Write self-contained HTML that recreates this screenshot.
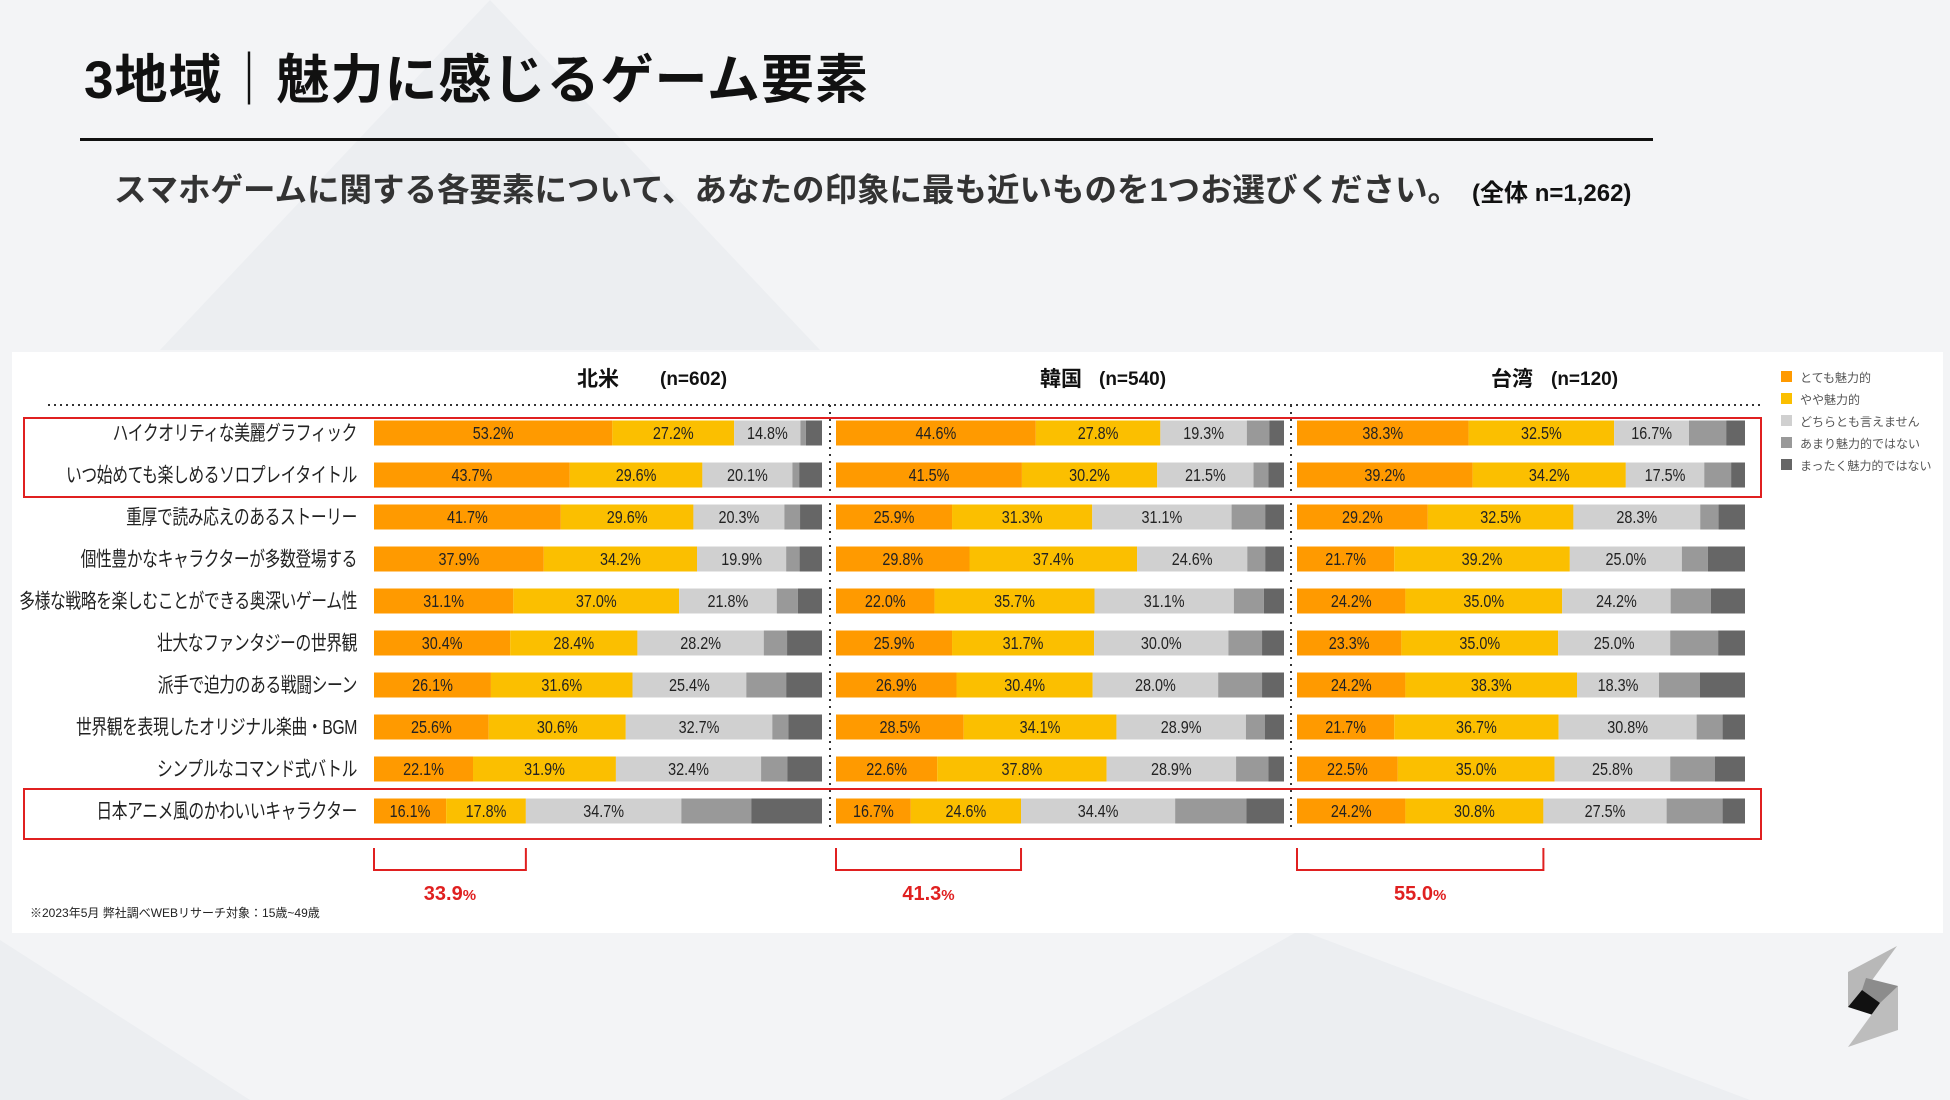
<!DOCTYPE html>
<html><head><meta charset="utf-8">
<style>
body{margin:0;width:1950px;height:1100px;overflow:hidden;background:#f3f4f6;font-family:"Liberation Sans","Noto Sans CJK JP",sans-serif;}
#root{position:relative;width:1950px;height:1100px;}
.title{position:absolute;left:84px;top:38px;font-size:53px;font-weight:bold;color:#111;letter-spacing:1px;}
.rule{position:absolute;left:80px;top:138px;width:1573px;height:3px;background:#111;}
.sub{position:absolute;left:114px;top:164px;font-size:32.5px;font-weight:bold;color:#333;white-space:nowrap;}
.sub small{font-size:24px;color:#111;margin-left:12px;}
</style></head>
<body><div id="root">
<svg width="1950" height="1100" style="position:absolute;left:0;top:0">
<polygon points="490,0 820,350 160,350" fill="#eceef1"/>
<polygon points="1300,930 1750,1100 1000,1100" fill="#eceef1"/>
<polygon points="0,940 250,1100 0,1100" fill="#eceef1"/>
</svg>
<div class="title">3地域｜魅力に感じるゲーム要素</div>
<div class="rule"></div>
<div class="sub">スマホゲームに関する各要素について、あなたの印象に最も近いものを1つお選びください。<small>(全体 n=1,262)</small></div>
<svg id="chart" width="1950" height="1100" style="position:absolute;left:0;top:0"></svg>
</div>
<script>
const categories=["ハイクオリティな美麗グラフィック","いつ始めても楽しめるソロプレイタイトル","重厚で読み応えのあるストーリー","個性豊かなキャラクターが多数登場する","多様な戦略を楽しむことができる奥深いゲーム性","壮大なファンタジーの世界観","派手で迫力のある戦闘シーン","世界観を表現したオリジナル楽曲・BGM","シンプルなコマンド式バトル","日本アニメ風のかわいいキャラクター"];
const regions=["北米","韓国","台湾"];
const regionN=["(n=602)","(n=540)","(n=120)"];
const seriesNames=["とても魅力的","やや魅力的","どちらとも言えません","あまり魅力的ではない","まったく魅力的ではない"];
const naVery=[53.2,43.7,41.7,37.9,31.1,30.4,26.1,25.6,22.1,16.1];
const naSome=[27.2,29.6,29.6,34.2,37.0,28.4,31.6,30.6,31.9,17.8];
const naNeutral=[14.8,20.1,20.3,19.9,21.8,28.2,25.4,32.7,32.4,34.7];
const naNot=[1.2,1.5,3.5,3.0,4.7,5.2,8.9,3.6,5.9,15.6];
const naNone=[3.6,5.1,4.9,5.0,5.4,7.8,8.0,7.5,7.7,15.8];
const krVery=[44.6,41.5,25.9,29.8,22.0,25.9,26.9,28.5,22.6,16.7];
const krSome=[27.8,30.2,31.3,37.4,35.7,31.7,30.4,34.1,37.8,24.6];
const krNeutral=[19.3,21.5,31.1,24.6,31.1,30.0,28.0,28.9,28.9,34.4];
const krNot=[5.0,3.3,7.5,4.0,6.7,7.5,9.8,4.2,7.2,15.9];
const krNone=[3.3,3.5,4.2,4.2,4.5,4.9,4.9,4.3,3.5,8.4];
const twVery=[38.3,39.2,29.2,21.7,24.2,23.3,24.2,21.7,22.5,24.2];
const twSome=[32.5,34.2,32.5,39.2,35.0,35.0,38.3,36.7,35.0,30.8];
const twNeutral=[16.7,17.5,28.3,25.0,24.2,25.0,18.3,30.8,25.8,27.5];
const twNot=[8.3,6.0,4.1,5.8,9.0,10.7,9.1,5.8,10.0,12.5];
const twNone=[4.2,3.1,5.9,8.3,7.6,6.0,10.1,5.0,6.7,5.0];
const topTwo=["33.9","41.3","55.0"];

const svg=document.getElementById('chart');
const NS='http://www.w3.org/2000/svg';
const colors=["#ff9a00","#fbbf00","#d0d0d0","#999999","#666666"];
function mk(tag,attrs,parent){const e=document.createElementNS(NS,tag);for(const k in attrs)e.setAttribute(k,attrs[k]);(parent||svg).appendChild(e);return e;}
const panel=mk('rect',{x:12,y:352,width:1931,height:581,fill:'#fff'});


const regionX=[374,836,1297];
const headerNameEnd=[619,1082,1533];
const headerNStart=[660,1099,1551];
const barW=448;
const rowY=i=>433+i*42.0;
const barH=25;
const xScale=(r,v)=>regionX[r]+v/100*barW;
const data=[[naVery,naSome,naNeutral,naNot,naNone],[krVery,krSome,krNeutral,krNot,krNone],[twVery,twSome,twNeutral,twNot,twNone]];
const dl=mk('line',{x1:48,y1:405,x2:1760,y2:405,stroke:'#333','stroke-width':2,'stroke-dasharray':'2 4'});


[830,1291].forEach(x=>{const l=mk('line',{x1:x,y1:405,x2:x,y2:830,stroke:'#333','stroke-width':2,'stroke-dasharray':'2 5'});

});
regions.forEach((r,ri)=>{
  const t=mk('text',{x:headerNameEnd[ri],y:386,'text-anchor':'end','font-size':21,'font-weight':'bold',fill:'#111'});
  t.textContent=r;
  
  
  const t2=mk('text',{x:headerNStart[ri],y:385,'text-anchor':'start','font-size':19,'font-weight':'bold',fill:'#111'});
  t2.textContent=regionN[ri];
  
  
});
categories.forEach((c,i)=>{
  const cy=rowY(i);
  const t=mk('text',{transform:`translate(357,${cy+7}) scale(0.77,1)`,'text-anchor':'end','font-size':20.5,fill:'#222','letter-spacing':'-0.5'});
  t.textContent=c;
  
  
  data.forEach((ser,ri)=>{
    let acc=0;
    ser.forEach((arr,si)=>{
      const v=arr[i];
      const rc=mk('rect',{x:xScale(ri,acc),y:cy-barH/2,width:Math.max(0,v/100*barW),height:barH,fill:colors[si]});
      
      
      if(si<3){
        const lt=mk('text',{transform:`translate(${xScale(ri,acc+v/2)},${cy+6}) scale(0.8,1)`,'text-anchor':'middle','font-size':18,fill:'#222'});
        lt.textContent=v.toFixed(1)+'%';
        
        
      }
      acc+=v;
    });
  });
});
[[418,79],[789,50]].forEach(b=>{const r=mk('rect',{x:24,y:b[0],width:1737,height:b[1],fill:'none',stroke:'#e02020','stroke-width':2});

});
data.forEach((ser,ri)=>{
  const x1=regionX[ri], x2=xScale(ri,ser[0][9]+ser[1][9]);
  const p=mk('path',{d:`M${x1},848 V870 H${x2} V848`,fill:'none',stroke:'#e02020','stroke-width':2});
  
  
  const t=mk('text',{x:(x1+x2)/2,y:900,'text-anchor':'middle','font-size':20,'font-weight':'bold',fill:'#e02020'});
  t.textContent=topTwo[ri];
  const ts=mk('tspan',{'font-size':15},t);
  ts.textContent='%';
  
  
});
const fn=mk('text',{x:30,y:917,'font-size':12,fill:'#222'});
fn.textContent='※2023年5月 弊社調べWEBリサーチ対象：15歳~49歳';


seriesNames.forEach((n,i)=>{
  const y=377+i*22;
  const r=mk('rect',{x:1781,y:y-6,width:11,height:11,fill:colors[i]});
  
  
  const t=mk('text',{x:1800,y:y+5,'font-size':12,fill:'#555'});
  t.textContent=n;
  
  
});
const g=mk('g',{});


mk('polygon',{points:'1897,946 1848,972 1848,1007 1870,983',fill:'#b8b8b8'},g);
mk('polygon',{points:'1866,978 1898,986 1880,1012 1862,990',fill:'#8c8c8c'},g);
mk('polygon',{points:'1848,1007 1862,990 1880,1003 1873,1015',fill:'#111'},g);
mk('polygon',{points:'1898,986 1898,1030 1848,1047 1880,1003',fill:'#bdbdbd'},g);
</script>
</body></html>
